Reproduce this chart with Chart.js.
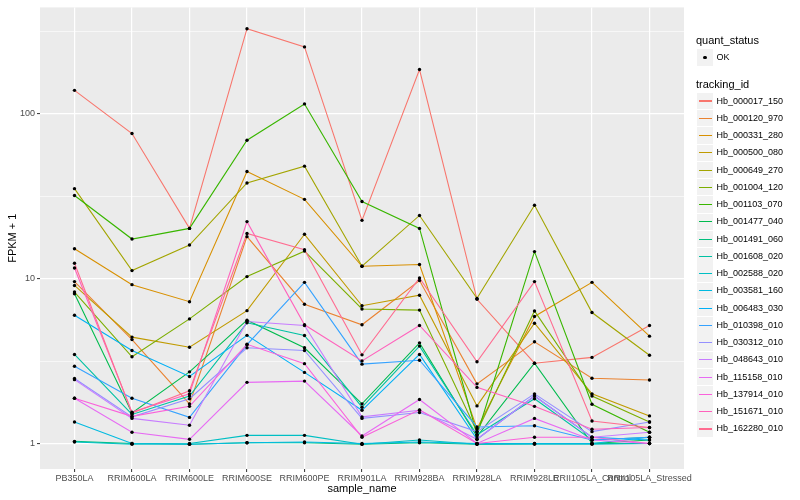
<!DOCTYPE html>
<html>
<head>
<meta charset="utf-8">
<script src="https://cdn.jsdelivr.net/npm/chart.js@4.4.0/dist/chart.umd.min.js"></script>
<style>
  html, body { margin: 0; padding: 0; background: #fff; }
  #wrap { position: relative; width: 800px; height: 500px; font-family: "Liberation Sans", Arial, sans-serif; }
  #wrap .lg { position: absolute; white-space: nowrap; color: #000; }
  #wrap .key { position: absolute; background: #F2F2F2; }
</style>
</head>
<body>
<div id="wrap"><canvas id="chart" width="800" height="500"></canvas></div>
<script>
/* ── Data ─────────────────────────────────────────── */
const samples = ['PB350LA','RRIM600LA','RRIM600LE','RRIM600SE','RRIM600PE','RRIM901LA',
                 'RRIM928BA','RRIM928LA','RRIM928LE','RRII105LA_Control','RRII105LA_Stressed'];

const trackingIds = ['Hb_000017_150','Hb_000120_970','Hb_000331_280','Hb_000500_080','Hb_000649_270',
                     'Hb_001004_120','Hb_001103_070','Hb_001477_040','Hb_001491_060','Hb_001608_020',
                     'Hb_002588_020','Hb_003581_160','Hb_006483_030','Hb_010398_010','Hb_030312_010',
                     'Hb_048643_010','Hb_115158_010','Hb_137914_010','Hb_151671_010','Hb_162280_010'];

const idColors = ['#F8766D','#EA8331','#D89000','#C09B00','#A3A500','#7CAE00','#39B600','#00BB4E',
                  '#00BF7D','#00C1A3','#00BFC4','#00BAE0','#00B0F6','#35A2FF','#9590FF','#C77CFF',
                  '#E76BF3','#FA62DB','#FF62BC','#FF6C91'];

// FPKM + 1 per sample (same order as samples)
const hb000017_150 = [139, 76, 20.2, 329, 255, 22.6, 186, 7.5, 3.07, 3.33, 5.2];
const hb000120_970 = [9.6, 4.27, 1.74, 18.0, 7.0, 5.25, 9.75, 2.3, 4.14, 2.49, 2.43];
const hb000331_280 = [15.2, 9.2, 7.25, 44.7, 30.3, 11.9, 12.2, 1.23, 5.9, 9.5, 4.48];
const hb000500_080 = [9.1, 4.42, 3.84, 6.4, 18.6, 6.85, 7.94, 1.69, 5.37, 2.0, 1.47];
const hb000649_270 = [35.2, 11.2, 16.0, 38.1, 48.2, 11.9, 24.2, 7.6, 27.9, 6.23, 3.43];
const hb001004_120 = [8.3, 3.36, 5.7, 10.3, 14.7, 6.55, 6.45, 1.18, 6.37, 1.94, 1.35];
const hb001103_070 = [32, 17.4, 20.2, 69.2, 115, 29.4, 20.2, 1.13, 14.6, 1.73, 1.17];
const hb001477_040 = [8.1, 1.53, 2.72, 5.6, 3.81, 1.74, 4.08, 1.1, 3.07, 1.0, 1.05];
const hb001491_060 = [1.03, 1.0, 0.99, 1.01, 1.01, 0.99, 1.01, 0.99, 1.0, 1.0, 1.0];
const hb001608_020 = [3.47, 1.5, 1.94, 5.4, 4.52, 1.66, 3.9, 1.13, 1.87, 1.05, 1.09];
const hb002588_020 = [1.02, 0.99, 1.0, 1.12, 1.12, 0.99, 1.05, 0.99, 0.99, 0.99, 1.0];
const hb003581_160 = [1.35, 1.0, 0.99, 1.01, 1.02, 1.0, 1.02, 1.0, 1.0, 1.0, 1.09];
const hb006483_030 = [6.0, 3.67, 2.55, 4.53, 2.7, 1.59, 3.47, 1.06, 1.94, 1.09, 1.05];
const hb010398_010 = [2.94, 1.88, 1.44, 3.98, 9.5, 3.03, 3.2, 1.26, 1.28, 1.05, 1.09];
const hb030312_010 = [2.48, 1.45, 1.87, 3.81, 3.67, 1.42, 1.54, 1.18, 2.0, 1.18, 1.35];
const hb048643_010 = [2.44, 1.42, 1.29, 5.5, 5.2, 1.45, 1.59, 1.06, 1.94, 1.09, 1.17];
const hb115158_010 = [1.88, 1.17, 1.06, 2.35, 2.39, 1.11, 1.85, 1.0, 1.42, 1.05, 1.0];
const hb137914_010 = [1.88, 1.46, 1.68, 4.0, 3.05, 1.09, 1.6, 1.0, 1.09, 1.09, 1.0];
const hb151671_010 = [11.6, 1.55, 2.0, 22.2, 5.25, 3.17, 5.2, 2.19, 1.68, 1.22, 1.25];
const hb162280_010 = [12.4, 1.53, 2.09, 18.8, 15.0, 3.45, 10.1, 3.13, 9.6, 1.37, 1.25];

const fpkmSeries = [hb000017_150, hb000120_970, hb000331_280, hb000500_080, hb000649_270,
                    hb001004_120, hb001103_070, hb001477_040, hb001491_060, hb001608_020,
                    hb002588_020, hb003581_160, hb006483_030, hb010398_010, hb030312_010,
                    hb048643_010, hb115158_010, hb137914_010, hb151671_010, hb162280_010];

const yTickValues = [1, 3.1623, 10, 31.623, 100, 316.23];
const yTickLabels = ['1', '', '10', '', '100', ''];

/* ── Chart ────────────────────────────────────────── */
const FONT = '"Liberation Sans", Arial, sans-serif';

const datasets = trackingIds.map((id, i) => ({
  label: id,
  data: fpkmSeries[i].map((v, j) => ({ x: j, y: v })),
  borderColor: idColors[i],
  borderWidth: 1.1,
  pointRadius: 0,
  fill: false,
  tension: 0,
  order: trackingIds.length - i + 1,
}));

datasets.push({
  label: 'OK',
  type: 'scatter',
  data: fpkmSeries.flatMap(arr => arr.map((v, j) => ({ x: j, y: v }))),
  pointRadius: 1.7,
  pointBackgroundColor: '#000',
  pointBorderColor: '#000',
  pointBorderWidth: 0,
  showLine: false,
  order: 0,
});

const panelBg = {
  id: 'panelBg',
  beforeDraw(chart) {
    const { ctx, chartArea: a } = chart;
    ctx.save();
    ctx.fillStyle = '#EBEBEB';
    ctx.fillRect(a.left, a.top, a.right - a.left, a.bottom - a.top);
    ctx.restore();
  }
};

new Chart(document.getElementById('chart'), {
  type: 'line',
  data: { datasets },
  plugins: [panelBg],
  options: {
    responsive: false,
    animation: false,
    layout: { padding: { top: 5, right: 116, left: 0, bottom: 0 } },
    plugins: { legend: { display: false }, tooltip: { enabled: false } },
    scales: {
      x: {
        type: 'linear', min: -0.6, max: 10.6,
        afterBuildTicks: s => { s.ticks = samples.map((_, i) => ({ value: i })); },
        afterFit: s => { s.height = 31; },
        ticks: {
          callback: (v, i) => samples[i],
          autoSkip: false, maxRotation: 0, minRotation: 0,
          color: '#4D4D4D', font: { family: FONT, size: 9 }, padding: 1,
        },
        grid: { color: '#FFFFFF', lineWidth: 1.2, tickColor: '#333333', tickLength: 3, tickWidth: 1 },
        border: { display: false },
        title: { display: true, text: 'sample_name', color: '#000', font: { family: FONT, size: 11 },
                 padding: { top: 0, bottom: 4.4 } },
      },
      y: {
        type: 'logarithmic', min: 0.738, max: 443,
        afterBuildTicks: s => { s.ticks = yTickValues.map(v => ({ value: v })); },
        afterFit: s => { s.width = 40; },
        ticks: {
          callback: (v, i) => yTickLabels[i],
          autoSkip: false,
          color: '#4D4D4D', font: { family: FONT, size: 9 }, padding: 2,
        },
        grid: {
          color: '#FFFFFF',
          lineWidth: c => (c.index % 2 === 0 ? 1.2 : 0.6),
          tickColor: c => (c.index % 2 === 0 ? '#333333' : 'rgba(0,0,0,0)'),
          tickLength: 3, tickWidth: 1,
        },
        border: { display: false },
        title: { display: true, text: 'FPKM + 1', color: '#000', font: { family: FONT, size: 11 },
                 padding: { top: 6.4, bottom: 0 } },
      }
    }
  }
});

/* ── Legend (ggplot style, right side) ───────────── */
const wrap = document.getElementById('wrap');

function addText(txt, x, cy, size) {
  const d = document.createElement('div');
  d.className = 'lg';
  d.textContent = txt;
  const lh = Math.round(size * 1.2);
  d.style.left = x + 'px';
  d.style.top = (cy - lh / 2) + 'px';
  d.style.fontSize = size + 'px';
  d.style.lineHeight = lh + 'px';
  wrap.appendChild(d);
}

function addKey(cy) {
  const k = document.createElement('div');
  k.className = 'key';
  k.style.left = '697px';
  k.style.top = (cy - 8.2) + 'px';
  k.style.width = '16px';
  k.style.height = '16.4px';
  wrap.appendChild(k);
  return k;
}

addText('quant_status', 696, 40.5, 11);
const okKey = addKey(57.5);
const dot = document.createElement('div');
dot.style.cssText = 'position:absolute;left:6.3px;top:6.5px;width:3.4px;height:3.4px;border-radius:50%;background:#000';
okKey.appendChild(dot);
addText('OK', 716.5, 57.5, 9);

addText('tracking_id', 696, 84, 11);
trackingIds.forEach((id, i) => {
  const cy = 101 + i * 17.26;
  const k = addKey(cy);
  const ln = document.createElement('div');
  ln.style.cssText = 'position:absolute;left:1.5px;width:13px;top:7.7px;height:1.1px;background:' + idColors[i];
  k.appendChild(ln);
  addText(id, 716.5, cy, 9);
});
</script>
</body>
</html>
